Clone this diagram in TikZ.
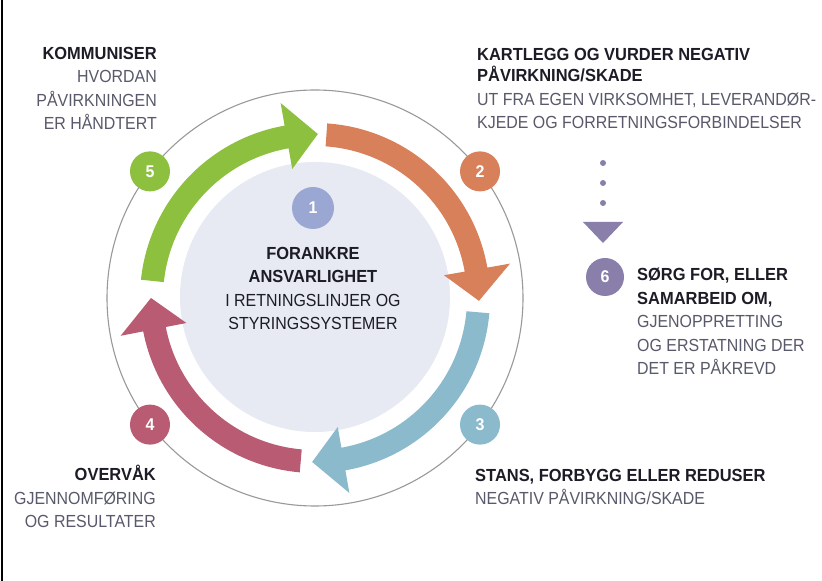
\documentclass[tikz,border=0pt]{standalone}
\usepackage{fontspec}
\setmainfont{Liberation Sans}[FakeStretch=0.91,BoldFeatures={FakeStretch=0.94}]
\definecolor{cgreen}{HTML}{8CC03E}
\definecolor{corange}{HTML}{D8805A}
\definecolor{cteal}{HTML}{8ABACB}
\definecolor{cred}{HTML}{B95C73}
\definecolor{cone}{HTML}{9AA7D3}
\definecolor{csix}{HTML}{8A7FAA}
\definecolor{cinner}{HTML}{E7E9F3}
\definecolor{ctext}{HTML}{1C1C26}
\definecolor{csub}{HTML}{58596A}
\newcommand\ringarrow[3]{%
  \pgfmathsetmacro\hb{#3+11}%
  \fill[#1] ([shift={(#2:175)}]C) arc[start angle=#2, end angle=\hb, radius=175]
    -- ([shift={(\hb:198)}]C) -- ([shift={(#3:164)}]C) -- ([shift={(\hb:131)}]C)
    -- ([shift={(\hb:152)}]C) arc[start angle=\hb, end angle=#2, radius=152] -- cycle;}
\tikzset{
  numc/.style={circle, minimum size=40pt, inner sep=0pt, text=white, font=\bfseries\fontsize{17}{17}\selectfont},
  lbl/.style={inner sep=0pt, font=\fontsize{17.5}{23.5}\selectfont, text=csub},
}
\newcommand\hd[1]{\textbf{\textcolor{ctext}{#1}}}
\begin{document}
\begin{tikzpicture}[x=1pt,y=1pt]
\useasboundingbox (0,0) rectangle (822,581);
\fill[white] (0,0) rectangle (822,581);
\draw[black, line width=1.5] (2,0) -- (2,581);
\coordinate (C) at (315,283);
\draw[gray!80, line width=1.1] (C) circle[radius=208];
\fill[cinner] (315,284) circle[radius=135];
\ringarrow{cgreen}{174}{89}
\ringarrow{corange}{86}{-1}
\ringarrow{cteal}{-5}{-91}
\ringarrow{cred}{-95}{-180}
\node[numc, fill=cgreen] (n5) at ([shift={(142.5:208)}]C) {5};
\node[numc, fill=corange] (n2) at ([shift={(37.5:208)}]C) {2};
\node[numc, fill=cteal] (n3) at ([shift={(-37.5:208)}]C) {3};
\node[numc, fill=cred] (n4) at ([shift={(-142.5:208)}]C) {4};
\node[numc, fill=cone, minimum size=42pt] (n1) at (313,373) {1};
\node[numc, fill=csix, minimum size=38pt] (n6) at (605,304) {6};
\fill[csix] (603,418) circle[radius=3] (603,398) circle[radius=3] (603,378) circle[radius=3];
\fill[csix] (583,359) -- (623,359) -- (603,338) -- cycle;
\node[lbl, align=center, text=ctext, anchor=base] (t1) at (313,251)
  {\textbf{FORANKRE}\\\textbf{ANSVARLIGHET}\\I RETNINGSLINJER OG\\STYRINGSSYSTEMER};
\node[lbl, align=right, anchor=base east] (t5) at (157,451)
  {\hd{KOMMUNISER}\\HVORDAN\\PÅVIRKNINGEN\\ER HÅNDTERT};
\node[lbl, align=left, anchor=base west] (t2) at (477,452)
  {\hd{KARTLEGG OG VURDER NEGATIV}\\[-2pt]\hd{PÅVIRKNING/SKADE}\\UT FRA EGEN VIRKSOMHET, LEVERANDØR-\\KJEDE OG FORRETNINGSFORBINDELSER};
\node[lbl, align=left, anchor=base west] (t6) at (637,206)
  {\hd{SØRG FOR, ELLER}\\\hd{SAMARBEID OM,}\\GJENOPPRETTING\\OG ERSTATNING DER\\DET ER PÅKREVD};
\node[lbl, align=left, anchor=base west] (t3) at (475,76)
  {\hd{STANS, FORBYGG ELLER REDUSER}\\NEGATIV PÅVIRKNING/SKADE};
\node[lbl, align=right, anchor=base east] (t4) at (156,53)
  {\hd{OVERVÅK}\\GJENNOMFØRING\\OG RESULTATER};
\end{tikzpicture}
\end{document}
